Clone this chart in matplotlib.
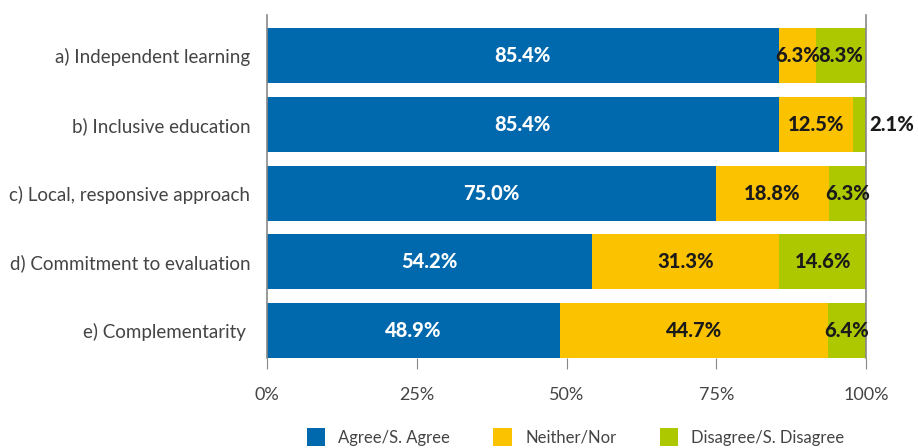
import numpy as np
import matplotlib.pyplot as plt
from matplotlib.patches import Patch

plt.rcParams['font.family'] = ['Lato', 'DejaVu Sans']

categories = ['a) Independent learning', 'b) Inclusive education',
              'c) Local, responsive approach', 'd) Commitment to evaluation',
              'e) Complementarity ']
agree = [85.4, 85.4, 75.0, 54.2, 48.9]
neither = [6.3, 12.5, 18.8, 31.3, 44.7]
disagree = [8.3, 2.1, 6.3, 14.6, 6.4]
series_names = ['Agree/S. Agree', 'Neither/Nor', 'Disagree/S. Disagree']
colors = ['#0068AC', '#FBC200', '#AEC800']
text_colors = ['white', '#1a1a1a', '#1a1a1a']

fig = plt.figure(figsize=(9.18, 4.48), dpi=100)
ax = fig.add_axes([267 / 918, 1 - 358 / 448, 599 / 918, 343 / 448])

y = np.arange(len(categories))
left = np.zeros(len(categories))
for vals, col, tcol in zip([agree, neither, disagree], colors, text_colors):
    vals = np.array(vals)
    ax.barh(y, vals, left=left, height=0.8, color=col)
    for yi, l, v in zip(y, left, vals):
        if v < 5:
            ax.text(100 + 0.6, yi, f'{v:.1f}%', ha='left', va='center',
                    fontsize=14.5, fontweight='black', color=tcol)
        else:
            ax.text(l + v / 2, yi, f'{v:.1f}%', ha='center', va='center',
                    fontsize=14.5, fontweight='black', color=tcol)
    left = left + vals

ax.set_xlim(0, 100)
ax.set_ylim(4.4, -0.59)
ax.set_yticks(y)
ax.set_yticklabels(categories, fontsize=13.5, color='#444444')
ax.tick_params(axis='y', length=0, pad=12)
ax.set_xticks([0, 25, 50, 75, 100])
ax.set_xticklabels(['0%', '25%', '50%', '75%', '100%'], fontsize=13,
                   color='#444444')
ax.tick_params(axis='x', length=8, color='#888888', pad=13)
for s in ['top', 'bottom']:
    ax.spines[s].set_visible(False)
for s in ['left', 'right']:
    ax.spines[s].set_color('#888888')
    ax.spines[s].set_linewidth(1.2)

handles = [Patch(facecolor=c, label=n) for c, n in zip(colors, series_names)]
leg = ax.legend(handles=handles, loc='upper center', bbox_to_anchor=(0.515, -0.175),
                ncol=3, frameon=False, fontsize=12, handlelength=1.1,
                handleheight=1.3, handletextpad=0.8, columnspacing=2.6,
                borderpad=0.1)
for t in leg.get_texts():
    t.set_color('#444444')

fig.savefig('out.png', dpi=100)
